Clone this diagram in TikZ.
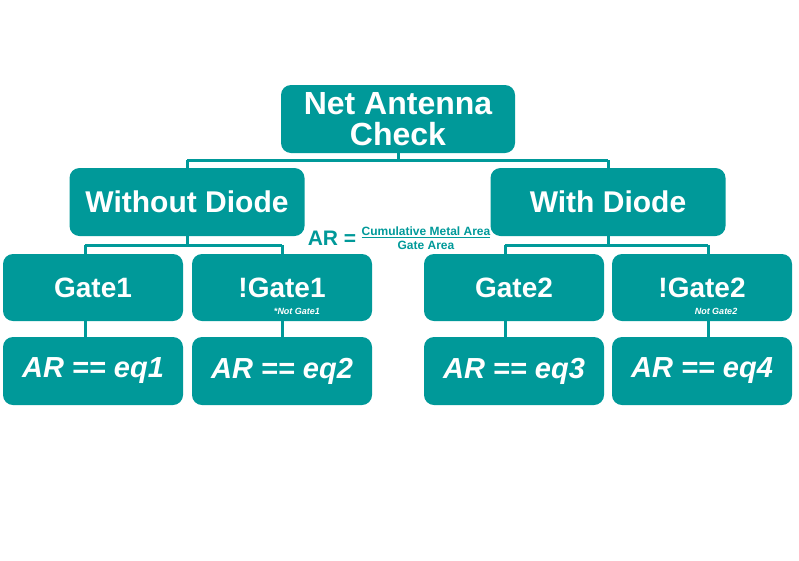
\documentclass[tikz,border=0pt]{standalone}
\usepackage{fontspec}
\setmainfont{Liberation Sans}
\usetikzlibrary{positioning}
\definecolor{teal}{HTML}{009999}

\begin{document}
\begin{tikzpicture}[x=1pt,y=-1pt,
	box/.style={fill=teal,rounded corners=10pt,text=white,font=\bfseries,
		inner sep=0pt,align=center},
	link/.style={draw=teal,line width=3pt}]
	\useasboundingbox (0,0) rectangle (799,560);

	\node[box,minimum width=234,minimum height=68,font=\bfseries\fontsize{32}{31}\selectfont] (root) at (398,119) {Net Antenna\\Check};
	\node[box,minimum width=235,minimum height=68,font=\bfseries\fontsize{30}{30}\selectfont] (nodiode) at (187,202) {Without Diode};
	\node[box,minimum width=235,minimum height=68,font=\bfseries\fontsize{30}{30}\selectfont] (diode) at (608,202) {With Diode};

	\foreach \n/\x/\t in {g1/93/Gate1, ng1/282/!Gate1, g2/514/Gate2, ng2/702/!Gate2}
		\node[box,minimum width=180,minimum height=67,font=\bfseries\fontsize{28}{28}\selectfont] (\n) at (\x,287.5) {\t};
	\foreach \n/\x/\t in {e1/93/eq1, e2/282/eq2, e3/514/eq3, e4/702/eq4}
		\node[box,minimum width=180,minimum height=68,font=\bfseries\itshape\fontsize{29}{29}\selectfont] (\n) at (\x,371) {AR == \t};

	\node[text=white,font=\bfseries\itshape\fontsize{9}{9}\selectfont] at (297,311) {*Not Gate1};
	\node[text=white,font=\bfseries\itshape\fontsize{9}{9}\selectfont] at (716,311) {Not Gate2};

	\node[text=teal,font=\bfseries\fontsize{21}{21}\selectfont,inner sep=0pt] (ar) at (332,238) {AR =};
	\node[text=teal,font=\bfseries\fontsize{12}{14}\selectfont,inner sep=0pt,right=5pt of ar,
		align=center] (frac) {\underline{Cumulative Metal Area}\\Gate Area};

	% connectors
	\coordinate (top) at (398,160);
	\draw[link] (root.south) -- (top) (nodiode.north |- top) -- (diode.north |- top);
	\draw[link] (nodiode.north |- top) -- (nodiode.north) (diode.north |- top) -- (diode.north);
	\coordinate (left) at (187,245);
	\coordinate (right) at (608,245);
	\draw[link] (nodiode.south) -- (left) (85,245) -- (282,245);
	\draw[link] (diode.south) -- (right) (505,245) -- (708,245);
	\foreach \x/\a/\b in {85/g1/e1, 282/ng1/e2, 505/g2/e3, 708/ng2/e4} {
		\draw[link] (\x,245) -- (\x,254);
		\draw[link] (\x,321) -- (\x,337);
	}
\end{tikzpicture}
\end{document}
